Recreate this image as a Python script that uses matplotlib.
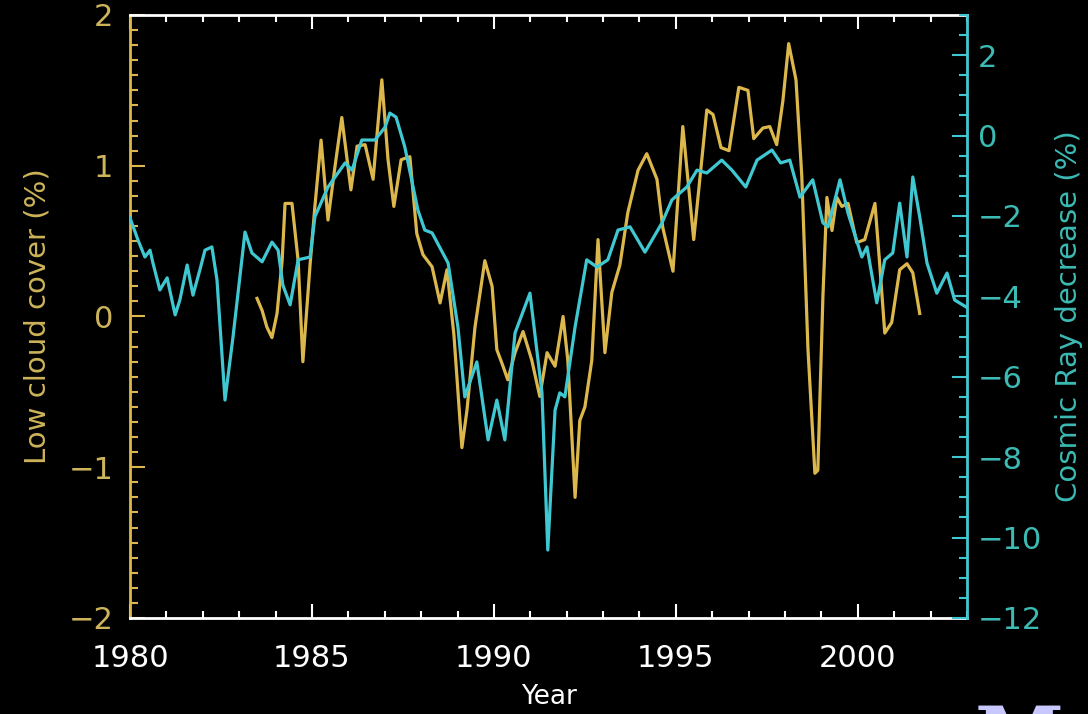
import numpy as np
import matplotlib
matplotlib.use("Agg")
import matplotlib.pyplot as plt
from matplotlib.ticker import MultipleLocator

# cosmic ray decrease (%), right axis
cr_year = [1980.00, 1980.22, 1980.41, 1980.55, 1980.63, 1980.82, 1981.02, 1981.24,
           1981.37, 1981.57, 1981.73, 1981.92, 1982.06, 1982.25, 1982.39, 1982.61,
           1982.83, 1983.16, 1983.35, 1983.63, 1983.90, 1984.07, 1984.20, 1984.40,
           1984.62, 1984.95, 1985.08, 1985.44, 1985.91, 1986.10, 1986.37, 1986.73,
           1987.01, 1987.14, 1987.31, 1987.55, 1987.91, 1988.10, 1988.30, 1988.74,
           1989.01, 1989.20, 1989.53, 1989.84, 1990.08, 1990.30, 1990.58, 1990.99,
           1991.32, 1991.48, 1991.68, 1991.81, 1991.95, 1992.23, 1992.55, 1992.83,
           1993.13, 1993.41, 1993.74, 1994.15, 1994.62, 1994.89, 1995.30, 1995.58,
           1995.85, 1996.26, 1996.54, 1996.92, 1997.23, 1997.64, 1997.88, 1998.13,
           1998.41, 1998.76, 1999.04, 1999.18, 1999.51, 1999.73, 2000.11, 2000.25,
           2000.52, 2000.74, 2000.96, 2001.15, 2001.35, 2001.51, 2001.70, 2001.90,
           2002.17, 2002.45, 2002.66, 2002.97]
cr_val = [-2.05, -2.60, -3.02, -2.85, -3.17, -3.84, -3.54, -4.46,
          -4.09, -3.22, -3.97, -3.34, -2.85, -2.77, -3.59, -6.58,
          -5.01, -2.40, -2.92, -3.14, -2.65, -2.85, -3.72, -4.21,
          -3.09, -3.02, -2.02, -1.28, -0.68, -0.86, -0.11, -0.11,
          0.21, 0.56, 0.46, -0.28, -1.85, -2.35, -2.42, -3.17,
          -4.76, -6.50, -5.63, -7.57, -6.58, -7.57, -4.91, -3.92,
          -6.40, -10.31, -6.83, -6.40, -6.50, -4.76, -3.09, -3.27,
          -3.09, -2.35, -2.27, -2.90, -2.17, -1.60, -1.28, -0.86,
          -0.93, -0.61, -0.86, -1.28, -0.61, -0.36, -0.68, -0.61,
          -1.53, -1.10, -2.17, -2.27, -1.10, -1.93, -3.02, -2.77,
          -4.16, -3.09, -2.92, -1.68, -3.02, -1.03, -2.02, -3.17,
          -3.92, -3.42, -4.09, -4.26]

# low cloud cover anomaly (%), left axis
cl_year = [1983.49, 1983.63, 1983.76, 1983.90, 1984.04, 1984.18, 1984.26, 1984.45,
           1984.62, 1984.75, 1984.95, 1985.08, 1985.25, 1985.44, 1985.63, 1985.82,
           1986.07, 1986.24, 1986.46, 1986.68, 1986.92, 1987.09, 1987.25, 1987.45,
           1987.69, 1987.88, 1988.05, 1988.30, 1988.52, 1988.71, 1988.90, 1989.12,
           1989.26, 1989.48, 1989.75, 1989.95, 1990.08, 1990.25, 1990.38, 1990.58,
           1990.80, 1991.04, 1991.26, 1991.46, 1991.68, 1991.90, 1992.03, 1992.23,
           1992.36, 1992.50, 1992.69, 1992.86, 1993.05, 1993.24, 1993.46, 1993.68,
           1993.96, 1994.20, 1994.48, 1994.64, 1994.92, 1995.19, 1995.49, 1995.85,
           1996.02, 1996.24, 1996.46, 1996.73, 1996.98, 1997.14, 1997.39, 1997.58,
           1997.77, 1997.94, 1998.10, 1998.30, 1998.46, 1998.63, 1998.82, 1998.90,
           1999.04, 1999.15, 1999.29, 1999.42, 1999.56, 1999.73, 1999.97, 2000.19,
           2000.47, 2000.60, 2000.74, 2000.93, 2001.15, 2001.35, 2001.51, 2001.70]
cl_val = [0.12, 0.04, -0.07, -0.14, 0.02, 0.37, 0.75, 0.75,
          0.37, -0.30, 0.35, 0.73, 1.17, 0.64, 0.99, 1.32,
          0.84, 1.13, 1.14, 0.91, 1.57, 1.04, 0.73, 1.04,
          1.06, 0.55, 0.41, 0.33, 0.09, 0.31, -0.12, -0.87,
          -0.62, -0.07, 0.37, 0.20, -0.22, -0.33, -0.42, -0.24,
          -0.10, -0.29, -0.53, -0.24, -0.33, 0.00, -0.29, -1.20,
          -0.69, -0.60, -0.29, 0.51, -0.24, 0.16, 0.34, 0.69,
          0.97, 1.08, 0.91, 0.59, 0.30, 1.26, 0.51, 1.37,
          1.34, 1.12, 1.10, 1.52, 1.50, 1.18, 1.25, 1.26,
          1.14, 1.43, 1.81, 1.57, 0.93, -0.22, -1.04, -1.02,
          0.13, 0.79, 0.57, 0.79, 0.73, 0.75, 0.49, 0.51,
          0.75, 0.35, -0.11, -0.04, 0.31, 0.35, 0.29, 0.02]

year_ticks = [1980, 1985, 1990, 1995, 2000]

YEL = "#dcb84c"
YEL_TXT = "#cdb45a"
CYA = "#40c8d2"
CYA_TXT = "#3cbab4"

plt.rcParams["font.family"] = ["DejaVu Sans"]

fig = plt.figure(figsize=(10.88, 7.14), dpi=100, facecolor="black")
ax = fig.add_axes([0.1195, 0.1345, 0.7693, 0.8445], facecolor="black")
ax2 = ax.twinx()

ax.plot(cl_year, cl_val, color=YEL, lw=2.3, zorder=3)
ax2.plot(cr_year, cr_val, color=CYA, lw=2.3, zorder=2)

ax.set_xlim(1980, 2003)
ax.set_ylim(-2, 2)
ax2.set_ylim(-12, 3)

# x axis: white, ticks on top and bottom, pointing in
ax.set_xticks(year_ticks)
ax.xaxis.set_minor_locator(MultipleLocator(1))
ax.tick_params(axis="x", which="both", direction="in", top=True, bottom=True,
               colors="white", labelsize=22, pad=19, width=1.5)
ax.tick_params(axis="x", which="major", length=10)
ax.tick_params(axis="x", which="minor", length=5)

# left axis
ax.set_yticks([-2, -1, 0, 1, 2])
ax.yaxis.set_minor_locator(MultipleLocator(0.1))
ax.tick_params(axis="y", which="both", direction="in", left=True, right=False,
               colors=YEL, labelcolor=YEL_TXT, labelsize=22, pad=12, width=1.5)
ax.tick_params(axis="y", which="major", length=11)
ax.tick_params(axis="y", which="minor", length=6)

# right axis
ax2.set_yticks(np.arange(-12, 3, 2))
ax2.yaxis.set_minor_locator(MultipleLocator(0.5))
ax2.tick_params(axis="y", which="both", direction="in", right=True, left=False,
                colors=CYA, labelcolor=CYA_TXT, labelsize=22, pad=8, width=1.5)
ax2.tick_params(axis="y", which="major", length=11)
ax2.tick_params(axis="y", which="minor", length=6)

for s in ["top", "bottom"]:
    ax.spines[s].set_color("white")
    ax.spines[s].set_linewidth(2)
    ax2.spines[s].set_visible(False)
ax.spines["left"].set_color(YEL)
ax.spines["left"].set_linewidth(2)
ax.spines["right"].set_visible(False)
ax2.spines["left"].set_visible(False)
ax2.spines["right"].set_color(CYA)
ax2.spines["right"].set_linewidth(2)

ax.set_xlabel("Year", color="white", fontsize=19, labelpad=8)
ax.set_ylabel("Low cloud cover (%)", color=YEL_TXT, fontsize=21, labelpad=12)
ax2.set_ylabel("Cosmic Ray decrease (%)", color=CYA_TXT, fontsize=21, labelpad=9)

fig.text(0.896, 0.016, "M", color="#c8c8ff", fontsize=58, family="DejaVu Serif",
         fontweight="bold", va="top", ha="left")

fig.savefig("out.png", dpi=100, facecolor="black")
